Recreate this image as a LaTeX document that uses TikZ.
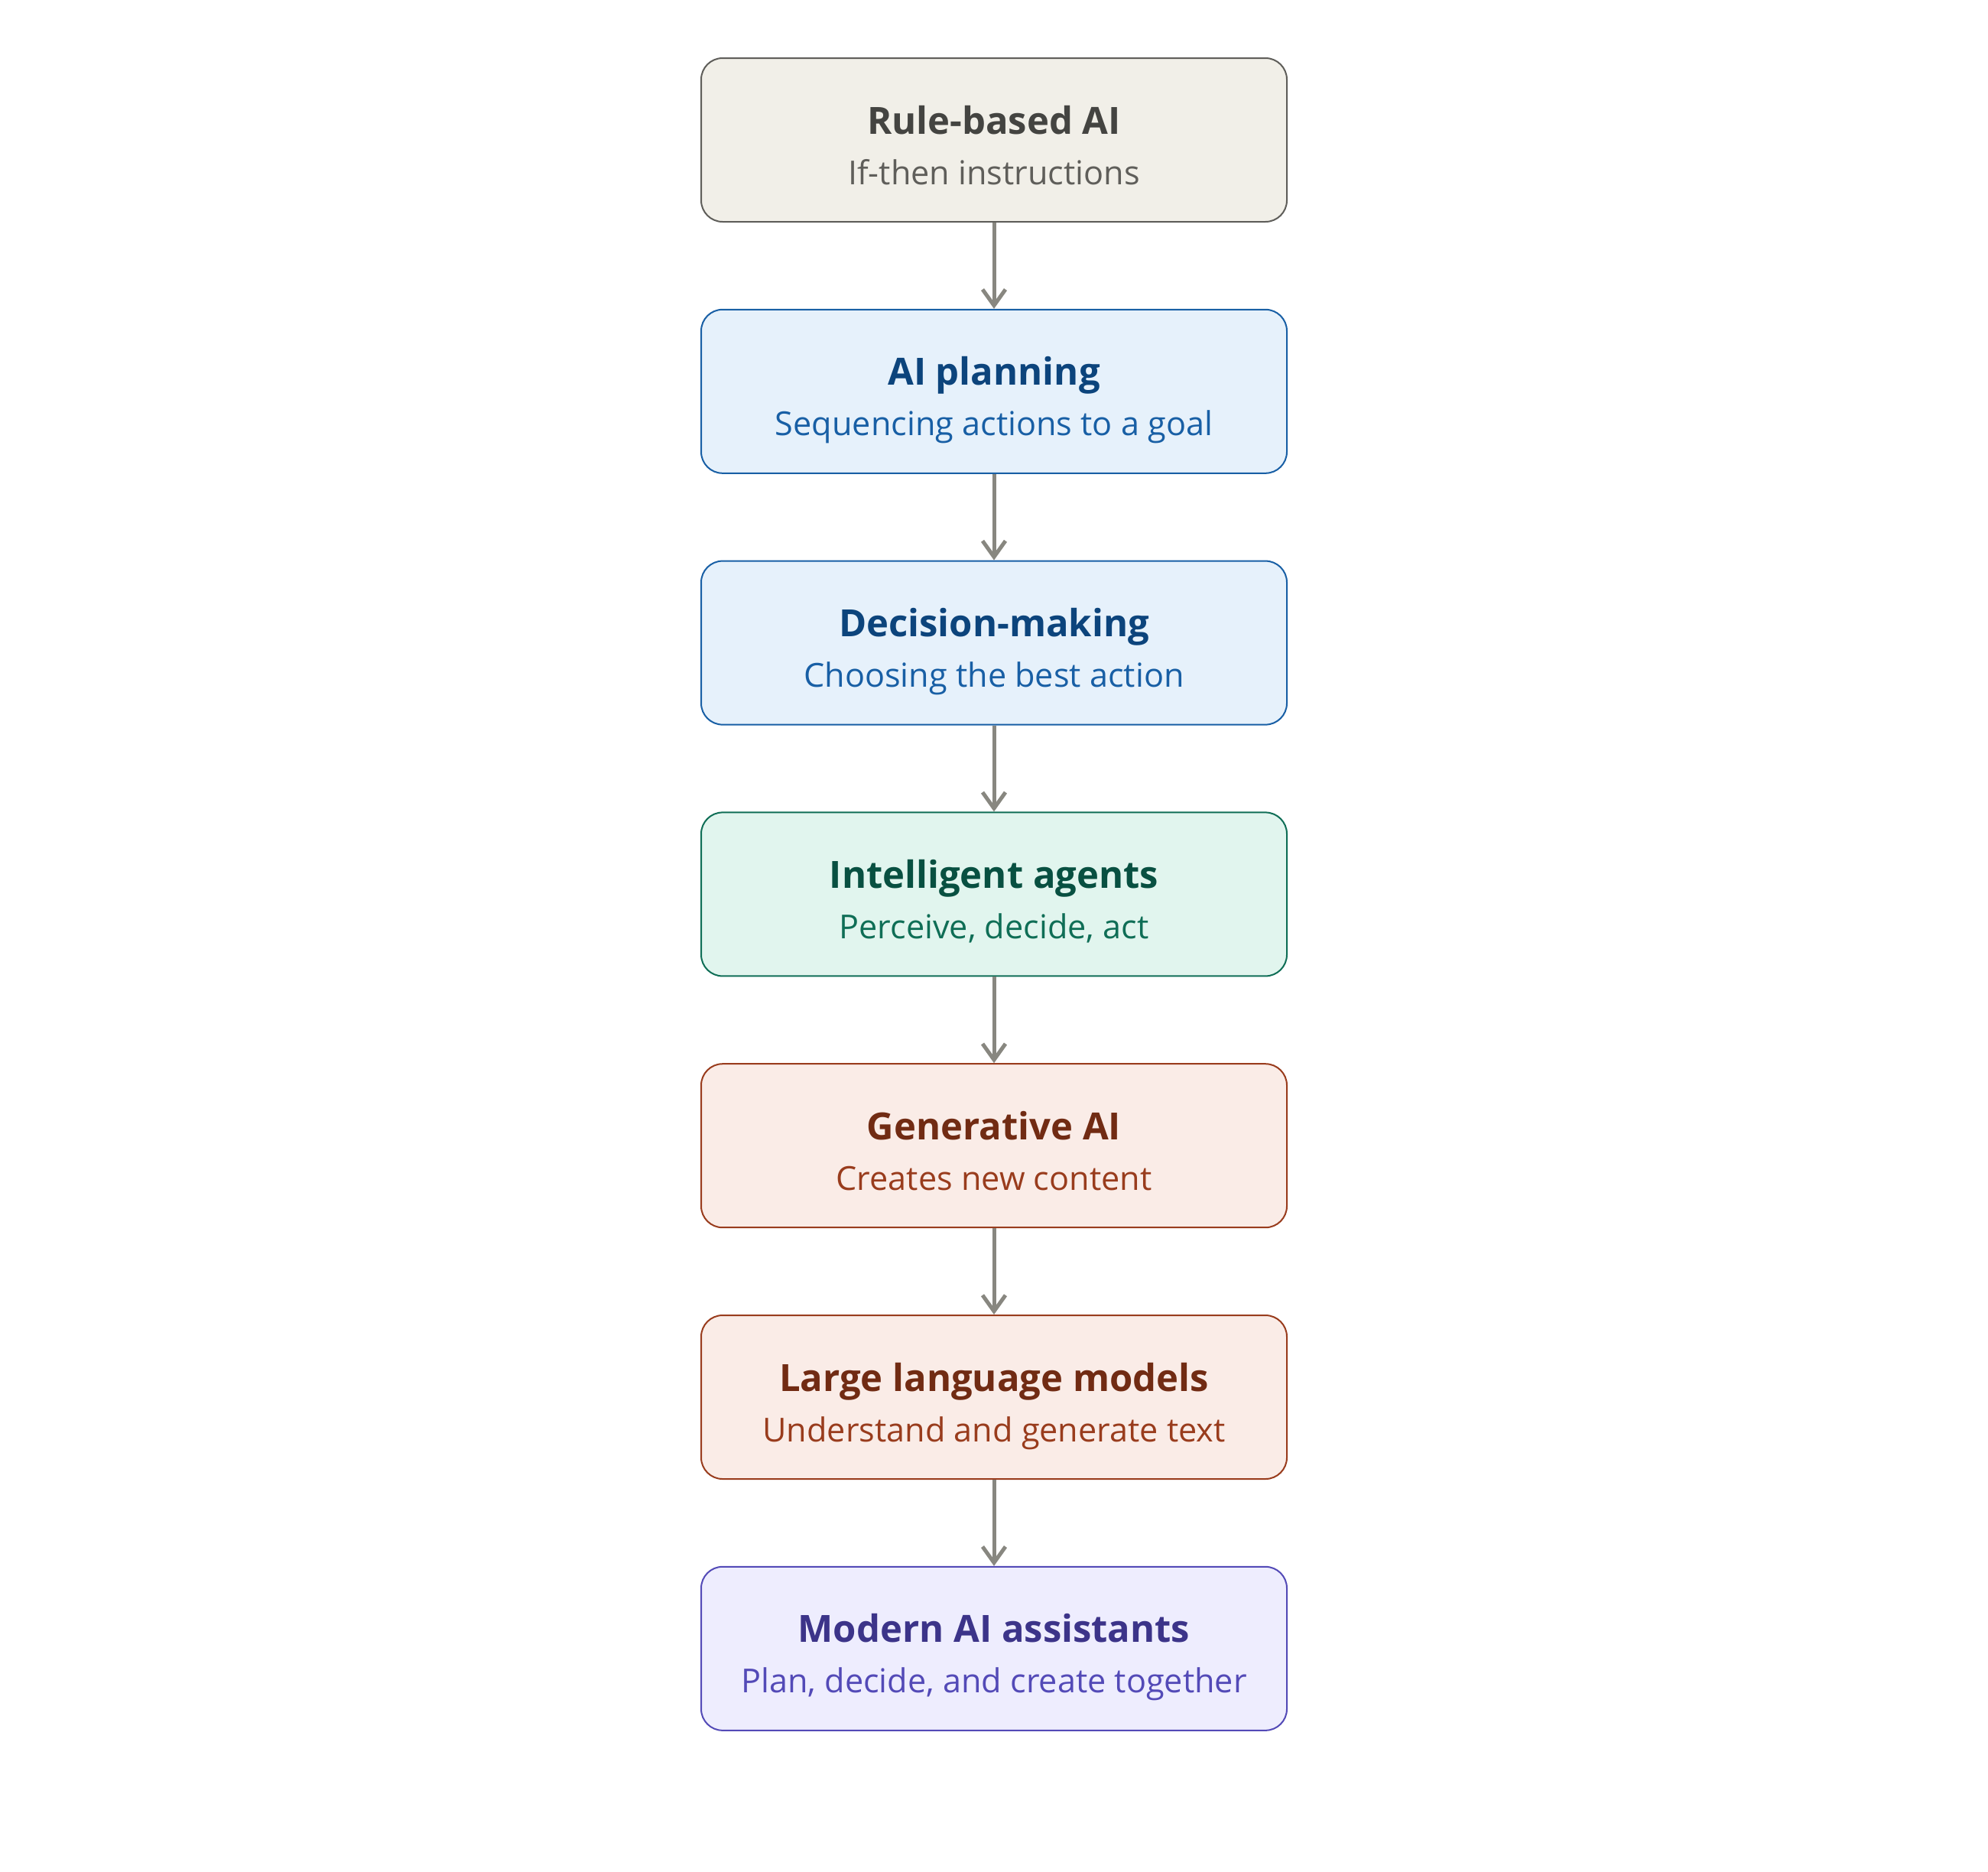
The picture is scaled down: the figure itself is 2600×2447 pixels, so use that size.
\documentclass[tikz,border=0pt]{standalone}
\usepackage{fontspec}
\setmainfont{Open Sans}
\usetikzlibrary{arrows.meta,positioning}
\definecolor{grayF}{HTML}{F1EFE8}\definecolor{grayS}{HTML}{5F5E5A}\definecolor{grayT}{HTML}{444441}
\definecolor{blueF}{HTML}{E6F1FB}\definecolor{blueS}{HTML}{185FA5}\definecolor{blueT}{HTML}{0C447C}
\definecolor{greenF}{HTML}{E1F5EE}\definecolor{greenS}{HTML}{0F6E56}\definecolor{greenT}{HTML}{085041}
\definecolor{coralF}{HTML}{FAECE7}\definecolor{coralS}{HTML}{993C1D}\definecolor{coralT}{HTML}{712B13}
\definecolor{purpF}{HTML}{EEEDFE}\definecolor{purpS}{HTML}{534AB7}\definecolor{purpT}{HTML}{3C3489}
\definecolor{arrowC}{HTML}{888780}
\tikzset{
  stagebox/.style={draw=#1S, fill=#1F, line width=1pt, rounded corners=14pt,
    minimum width=383pt, minimum height=107pt, inner sep=0pt},
  titletext/.style={text=#1T, font=\fontsize{24.5pt}{28pt}\selectfont\bfseries, anchor=base, inner sep=0pt},
  subtext/.style={text=#1S, font=\fontsize{21.6pt}{25pt}\selectfont, anchor=base, inner sep=0pt},
  flow/.style={draw=arrowC, line width=2.5pt, -{Straight Barb[length=10.5pt,width=15pt,line width=2.5pt]}}
}
\begin{document}
\begin{tikzpicture}[x=0.5pt,y=-0.5pt]
\useasboundingbox[fill=white] (0,0) rectangle (2600,2447);
\foreach \i/\c/\t/\s in {
  1/gray/Rule-based AI/If-then instructions,
  2/blue/AI planning/Sequencing actions to a goal,
  3/blue/Decision-making/Choosing the best action,
  4/green/Intelligent agents/{Perceive, decide, act},
  5/coral/Generative AI/Creates new content,
  6/coral/Large language models/Understand and generate text,
  7/purp/Modern AI assistants/{Plan, decide, and create together}}{
  \node[stagebox=\c] (b\i) at (1300,{183+328.8*(\i-1)}) {};
  \node[titletext=\c] (t\i) at ([yshift=4pt]b\i.center) {\t};
  \node[subtext=\c] (s\i) at ([yshift=-29pt]b\i.center) {\s};
}
\foreach \i [evaluate=\i as \j using int(\i+1)] in {1,...,6}{
  \draw[flow] (b\i.south) -- (b\j.north);
}
\end{tikzpicture}
\end{document}
